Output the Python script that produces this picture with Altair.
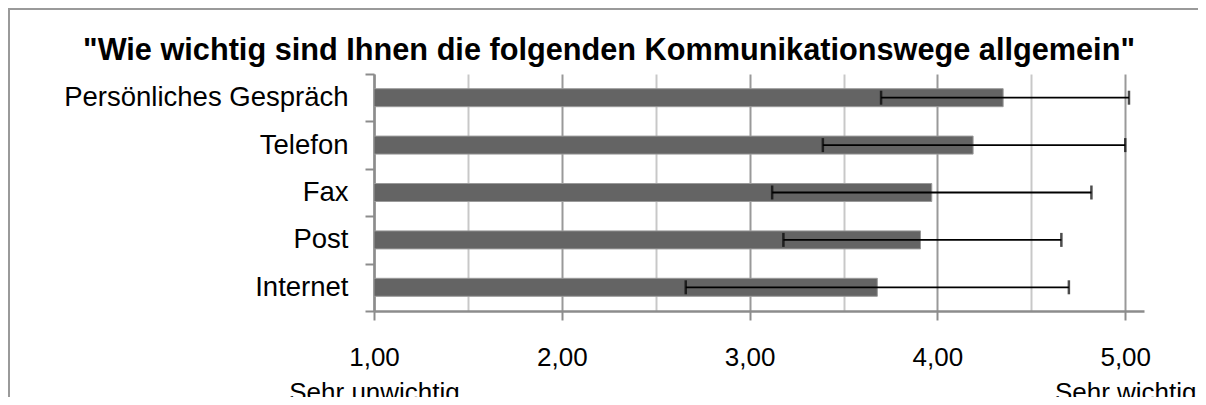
import altair as alt
import pandas as pd

# ---- data ----
categories = ["Persönliches Gespräch", "Telefon", "Fax", "Post", "Internet"]
means = [4.35, 4.19, 3.97, 3.91, 3.68]
err_low = [3.70, 3.39, 3.12, 3.18, 2.66]
err_high = [5.02, 5.00, 4.82, 4.66, 4.70]

title_text = '"Wie wichtig sind Ihnen die folgenden Kommunikationswege  allgemein"'
x_ticks = [1, 1.5, 2, 2.5, 3, 3.5, 4, 4.5, 5]
x_domain = [1, 5.1]
low_anchor_label = "Sehr unwichtig"
high_anchor_label = "Sehr wichtig"

df = pd.DataFrame({"Kommunikationsweg": categories, "Mittelwert": means,
                   "lo": err_low, "hi": err_high})

FONT = "Liberation Sans"
W, H = 770, 237
PAD = {"left": 366, "top": 66, "right": 54, "bottom": 86}
AXIS_GRAY = "#8c8c8c"
FRAME_GRAY = "#9a9a9a"

label_expr = (
    f"datum.value === 1 ? ['1,00', '{low_anchor_label}'] : "
    f"datum.value === 5 ? ['5,00', '{high_anchor_label}'] : "
    "(datum.value % 1 === 0 ? replace(format(datum.value, '.2f'), '.', ',') : '')"
)

x_scale = alt.Scale(domain=x_domain, nice=False, zero=False)
x_axis = alt.Axis(
    title=None, values=x_ticks, grid=True,
    gridColor=alt.condition("datum.value % 1 === 0", alt.value("#999999"), alt.value("#c8c8c8")),
    gridWidth=2,
    domainColor=AXIS_GRAY, domainWidth=2.5,
    tickColor=AXIS_GRAY, tickWidth=2, tickSize=9,
    tickOpacity=alt.condition("datum.value % 1 === 0", alt.value(1), alt.value(0)),
    labelExpr=label_expr, labelFont=FONT, labelFontSize=26, labelColor="black",
    labelPadding=24, labelLineHeight=35, labelOverlap=False, labelFlush=False,
    labelBound=False,
)
y_scale = alt.Scale(paddingInner=0, paddingOuter=0)
y_axis = alt.Axis(
    title=None, grid=False,
    domainColor=AXIS_GRAY, domainWidth=2.5,
    tickColor=AXIS_GRAY, tickWidth=2, tickSize=9, tickBand="extent",
    labelFont=FONT, labelFontSize=27.5, labelColor="black", labelPadding=17,
    labelLimit=500,
)
y_enc = alt.Y("Kommunikationsweg:N", sort=categories, scale=y_scale, axis=y_axis)

base = alt.Chart(df)

bars = base.mark_bar(size=18, color="#646464", stroke="#9a9a9a", strokeWidth=1).encode(
    x=alt.X("Mittelwert:Q", scale=x_scale, axis=x_axis),
    x2=alt.datum(1),
    y=y_enc,
)

err_line = base.mark_rule(color="black", strokeWidth=1.8).encode(
    x=alt.X("lo:Q", scale=x_scale, axis=x_axis),
    x2="hi:Q",
    y=y_enc,
)
cap_lo = base.mark_tick(color="black", thickness=2.5, size=14, orient="vertical").encode(
    x=alt.X("lo:Q", scale=x_scale, axis=x_axis), y=y_enc)
cap_hi = base.mark_tick(color="black", thickness=2.5, size=14, orient="vertical").encode(
    x=alt.X("hi:Q", scale=x_scale, axis=x_axis), y=y_enc)

one_row = alt.Data(values=[{}])
# outer chart frame: only its left and top edges fall inside the picture
frame_left = alt.Chart(one_row).mark_rect(color=FRAME_GRAY, strokeWidth=0).encode(
    x=alt.value(-366), x2=alt.value(-364), y=alt.value(-66), y2=alt.value(H + PAD["bottom"]))
frame_top_a = alt.Chart(one_row).mark_rect(color=FRAME_GRAY, strokeWidth=0).encode(
    x=alt.value(-366), x2=alt.value(300), y=alt.value(-66), y2=alt.value(-64))
frame_top_b = alt.Chart(one_row).mark_rect(color=FRAME_GRAY, strokeWidth=0).encode(
    x=alt.value(300), x2=alt.value(W + 54), y=alt.value(-66), y2=alt.value(-64))

title = alt.Chart(one_row).mark_text(
    font=FONT, fontSize=30.7, fontWeight="bold", color="black",
    align="center", baseline="alphabetic",
).encode(x=alt.value(609 - 374), y=alt.value(60 - 74), text=alt.value(title_text))

chart = alt.layer(frame_left, frame_top_a, frame_top_b, bars, err_line, cap_lo, cap_hi, title).properties(
    width=W, height=H, padding=PAD, autosize=alt.AutoSizeParams(type="none"),
    background="white",
).configure_view(stroke=None)

chart.save("out.html", embed_options={"renderer": "svg", "actions": False})
